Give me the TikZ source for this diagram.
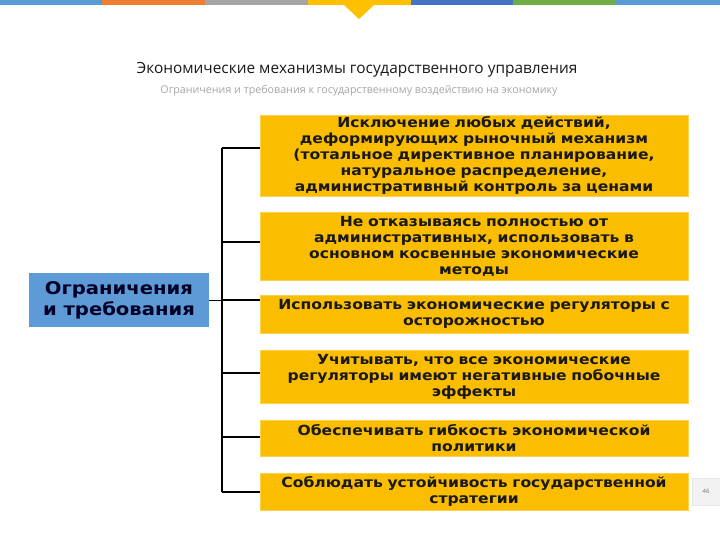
\documentclass[tikz,border=0pt]{standalone}
\usepackage{fontspec}
\setmainfont{DejaVu Sans}
\newfontfamily\titlefont{Open Sans}
\newfontfamily\boxfont[FakeStretch=1.12]{DejaVu Sans}
\usetikzlibrary{positioning}
\definecolor{cBlue}{HTML}{5B9BD5}
\definecolor{cOrange}{HTML}{ED7D31}
\definecolor{cGray}{HTML}{A5A5A5}
\definecolor{cYellow}{HTML}{FFC000}
\definecolor{cDBlue}{HTML}{4472C4}
\definecolor{cGreen}{HTML}{70AD47}
\definecolor{boxY}{HTML}{FBBD00}
\definecolor{leftB}{HTML}{5D9AD6}
\definecolor{subG}{HTML}{A6A6A6}
\tikzset{
  ybox/.style={fill=boxY, draw=boxY!70!white, line width=0.8pt, minimum width=428pt, text width=426pt, align=center, inner sep=0pt,
    font=\boxfont\bfseries\fontsize{13.9}{16}\selectfont, text=black!90},
  lbox/.style={fill=leftB, minimum width=180pt, minimum height=54pt, align=center, inner sep=0pt,
    font=\boxfont\bfseries\fontsize{17.5}{21}\selectfont, text=black!85!blue},
  conn/.style={draw=black, line width=1.6pt}
}
\begin{document}
\begin{tikzpicture}[x=1pt,y=-1pt]
\useasboundingbox (0,0) rectangle (720,540);
\fill[white] (0,0) rectangle (720,540);
% top stripe
\fill[cBlue] (0,0) rectangle (102,5);
\fill[cOrange] (102,0) rectangle (205,5);
\fill[cGray] (205,0) rectangle (308,5);
\fill[cYellow] (308,0) rectangle (411,5);
\fill[cYellow] (344,5) -- (374,5) -- (359,19) -- cycle;
\fill[cDBlue] (411,0) rectangle (513,5);
\fill[cGreen] (513,0) rectangle (616,5);
\fill[cBlue] (616,0) rectangle (720,5);
% titles
\node[font=\titlefont\fontsize{15.4}{18}\selectfont, text=black!90] (title) at (357,70) {Экономические механизмы государственного управления};
\node[font=\titlefont\fontsize{10.7}{12}\selectfont, text=subG] (sub) at (359,91) {Ограничения и требования к государственному воздействию на экономику};
% left box
\node[lbox] (lb) at (119,300) {Ограничения\\и требования};
% right boxes
\node[ybox, minimum height=81pt] (b1) at (474,155.5) {Исключение любых действий,\\деформирующих рыночный механизм\\(тотальное директивное планирование,\\натуральное распределение,\\административный контроль за ценами};
\node[ybox, minimum height=68pt] (b2) at (474,246) {Не отказываясь полностью от\\административных, использовать в\\основном косвенные экономические\\методы};
\node[ybox, minimum height=38pt] (b3) at (474,314) {Использовать экономические регуляторы с\\осторожностью};
\node[ybox, minimum height=53pt] (b4) at (474,376.5) {Учитывать, что все экономические\\регуляторы имеют негативные побочные\\эффекты};
\node[ybox, minimum height=36pt] (b5) at (474,438) {Обеспечивать гибкость экономической\\политики};
\node[ybox, minimum height=37pt] (b6) at (474,491.5) {Соблюдать устойчивость государственной\\стратегии};
% connectors
\coordinate (s1) at (222,148);
\coordinate (s2) at (222,242);
\coordinate (s3) at (222,300);
\coordinate (s4) at (222,373);
\coordinate (s5) at (222,437);
\coordinate (s6) at (222,492);
\draw[conn] (s1) -- (s6);
\draw[conn] (s1) -- (b1.west |- s1);
\draw[conn] (s2) -- (b2.west |- s2);
\draw[conn, line width=1pt] (lb.east) -- (s3);
\draw[conn] (s3) -- (b3.west |- s3);
\draw[conn] (s4) -- (b4.west |- s4);
\draw[conn] (s5) -- (b5.west |- s5);
\draw[conn] (s6) -- (b6.west |- s6);
% page number
\node[fill=black!5, draw=black!10, minimum width=28pt, minimum height=27pt, inner sep=0pt, font=\titlefont\fontsize{6}{7}\selectfont, text=black!55] (pg) at (706,491.5) {46};
\end{tikzpicture}
\end{document}
